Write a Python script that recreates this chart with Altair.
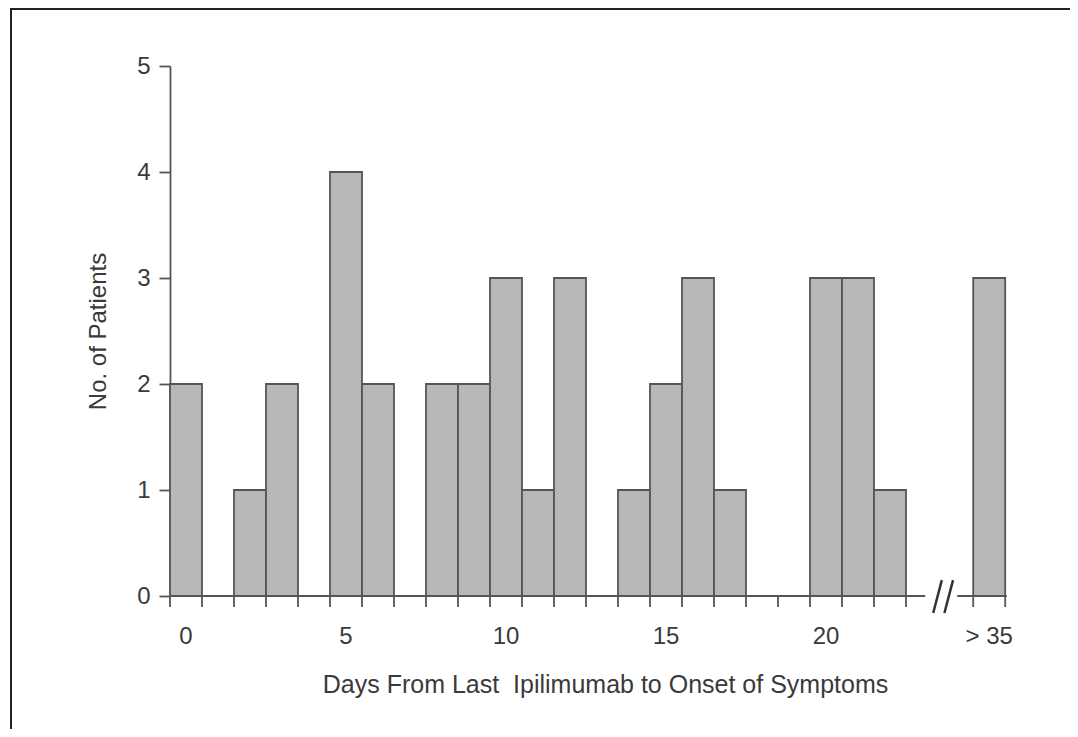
import altair as alt
import pandas as pd

# Data
days = list(range(0, 23)) + [25.1]        # last slot stands for "> 35"
patients = [2, 0, 1, 2, 0, 4, 2, 0, 2, 2, 3, 1, 3, 0, 1, 2, 3, 1, 0, 0, 3, 3, 1, 3]
label_pos = [0, 5, 10, 15, 20, 25.1]
label_txt = ["0", "5", "10", "15", "20", "> 35"]
tick_pos = [d - 0.5 for d in range(0, 24)] + [24.6, 25.6]
# broken baseline segments and break marks (data units)
seg_x = [-0.5, 24.1]
seg_x2 = [23.1, 25.65]
brk_x = [23.35, 23.7]
brk_x2 = [23.62, 23.97]

W, H = 840, 530
FONT = "Liberation Sans"
AX = "#555555"
TXT = "#3a3a3a"

bars_df = pd.DataFrame({"day": days, "n": patients})
bars_df["x0"] = bars_df["day"] - 0.5
bars_df["x1"] = bars_df["day"] + 0.5

xscale = alt.Scale(domain=[-0.5, 25.75], nice=False, zero=False)
yscale = alt.Scale(domain=[0, 5], nice=False)

bars = alt.Chart(bars_df).mark_bar(
    fill="#b8b8bb", stroke=AX, strokeWidth=1.8
).encode(
    x=alt.X("x0:Q", scale=xscale,
            axis=alt.Axis(labels=False, ticks=False, domain=False, grid=False,
                          title="Days From Last\u00a0 Ipilimumab to Onset of Symptoms",
                          titleFont=FONT, titleFontSize=25, titleFontWeight="normal",
                          titleColor=TXT, titleX=435, titleY=88,
                          titleBaseline="middle")),
    x2="x1:Q",
    y=alt.Y("n:Q", scale=yscale,
            axis=alt.Axis(values=[0, 1, 2, 3, 4, 5], format="d", grid=False, tickSize=11,
                          tickColor=AX, tickWidth=1.8, domainColor=AX, domainWidth=1.8,
                          labelFont=FONT, labelFontSize=24, labelColor=TXT,
                          labelPadding=9,
                          title="No. of Patients", titleFont=FONT, titleFontSize=24,
                          titleFontWeight="normal", titleColor=TXT, titlePadding=26)),
    y2=alt.datum(0),
)

tick_df = pd.DataFrame({"x": tick_pos, "y": [0] * len(tick_pos)})
ticks = alt.Chart(tick_df).mark_rule(color=AX, strokeWidth=1.8).encode(
    x=alt.X("x:Q", scale=xscale), y=alt.Y("y:Q", scale=yscale), y2=alt.value(H + 11)
)

seg_df = pd.DataFrame({"x": seg_x, "x2": seg_x2, "y": [0, 0]})
baseline = alt.Chart(seg_df).mark_rule(color=AX, strokeWidth=1.8).encode(
    x=alt.X("x:Q", scale=xscale), x2="x2:Q", y=alt.Y("y:Q", scale=yscale)
)

brk_df = pd.DataFrame({"x": brk_x, "x2": brk_x2, "y": [-0.16, -0.16], "y2": [0.15, 0.15]})
breaks = alt.Chart(brk_df).mark_rule(color="#333333", strokeWidth=2.5).encode(
    x=alt.X("x:Q", scale=xscale), x2="x2:Q",
    y=alt.Y("y:Q", scale=yscale), y2="y2:Q"
)

lab_df = pd.DataFrame({"x": label_pos, "t": label_txt})
labels = alt.Chart(lab_df).mark_text(
    font=FONT, fontSize=24, color=TXT, baseline="middle", align="center"
).encode(
    x=alt.X("x:Q", scale=xscale), y=alt.value(H + 41), text="t:N"
)

frame_df = pd.DataFrame({"a": [0]})
frame_left = alt.Chart(frame_df).mark_rule(color="#222222", strokeWidth=2).encode(
    x=alt.value(-159), y=alt.value(-57), y2=alt.value(H + 200)
)
frame_top = alt.Chart(frame_df).mark_rule(color="#222222", strokeWidth=2).encode(
    x=alt.value(-160), x2=alt.value(W + 200), y=alt.value(-57)
)

chart = alt.layer(bars, ticks, baseline, breaks, labels, frame_left, frame_top).properties(
    width=W, height=H,
    background="white",
    autosize=alt.AutoSizeParams(type="none"),
    padding={"left": 162, "top": 58, "right": 60, "bottom": 133},
).configure_view(stroke="transparent", strokeWidth=0)

chart.save("out.html", embed_options={"renderer": "svg", "actions": False})
